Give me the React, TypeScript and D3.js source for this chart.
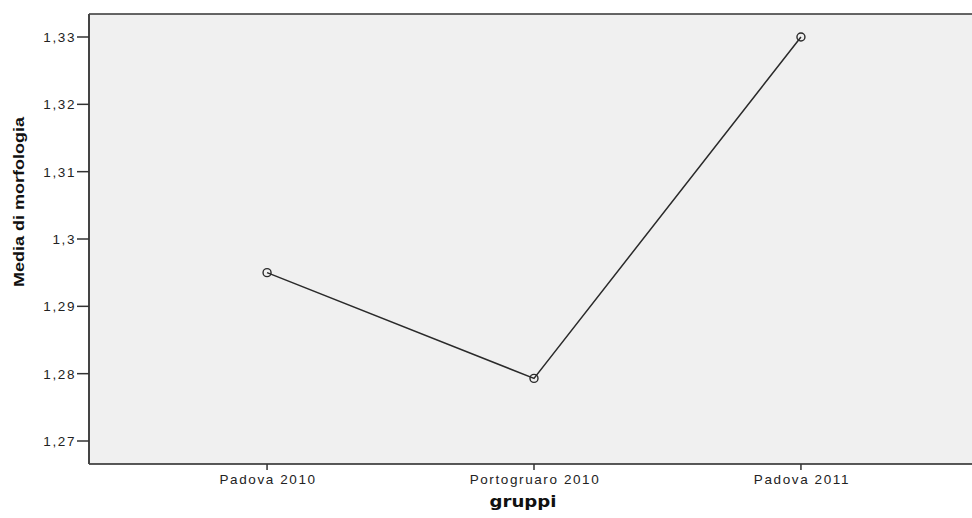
import React from "react";
import * as d3 from "d3";

// Mean morphology score by group
const categories: string[] = ["Padova 2010", "Portogruaro 2010", "Padova 2011"];
const means: number[] = [1.295, 1.2793, 1.33];
const yTickValues: number[] = [1.27, 1.28, 1.29, 1.3, 1.31, 1.32, 1.33];
const yTickLabels: string[] = ["1,27", "1,28", "1,29", "1,3", "1,31", "1,32", "1,33"];

const W = 972;
const H = 518;
const frame = { left: 89, right: 979, top: 14, bottom: 464 };

export default function App() {
  const x = d3
    .scalePoint<string>()
    .domain(categories)
    .range([frame.left, frame.right])
    .padding(0.667);
  const y = d3.scaleLinear().domain([1.27, 1.33]).range([441, 37]);

  const pts = categories.map((c, i) => ({ c, v: means[i] }));
  const line = d3
    .line<{ c: string; v: number }>()
    .x((d) => x(d.c) as number)
    .y((d) => y(d.v));

  const tickFont = "Liberation Sans, Arial, sans-serif";

  return (
    <svg
      width={W}
      height={H}
      style={{ position: "absolute", left: 0, top: 0, background: "#fff" }}
    >
      {/* plot background */}
      <rect
        x={frame.left}
        y={frame.top}
        width={W - frame.left}
        height={frame.bottom - frame.top}
        fill="#f0f0f0"
      />
      {/* frame lines */}
      <line x1={frame.left} x2={W} y1={frame.top} y2={frame.top} stroke="#333" strokeWidth={1.5} />
      <line x1={frame.left} x2={W} y1={frame.bottom} y2={frame.bottom} stroke="#222" strokeWidth={1.5} />
      <line x1={frame.left} x2={frame.left} y1={frame.top} y2={frame.bottom} stroke="#444" strokeWidth={2} />

      {/* y axis ticks */}
      {yTickValues.map((v, i) => (
        <g key={v}>
          <line x1={77} x2={frame.left} y1={y(v)} y2={y(v)} stroke="#333" strokeWidth={1.5} />
          <text
            x={76}
            y={y(v) + 5}
            textAnchor="end"
            fontFamily={tickFont}
            fontSize={13.5}
            letterSpacing={1.6}
            fill="#222"
          >
            {yTickLabels[i]}
          </text>
        </g>
      ))}

      {/* x axis ticks */}
      {categories.map((c) => (
        <g key={c}>
          <line
            x1={x(c) as number}
            x2={x(c) as number}
            y1={frame.bottom}
            y2={frame.bottom + 6}
            stroke="#333"
            strokeWidth={1.5}
          />
          <text
            x={(x(c) as number) + 1}
            y={484}
            textAnchor="middle"
            fontFamily={tickFont}
            fontSize={13.5}
            letterSpacing={1.6}
            fill="#222"
          >
            {c}
          </text>
        </g>
      ))}

      {/* data line and markers */}
      <path d={line(pts) ?? ""} fill="none" stroke="#2a2a2a" strokeWidth={1.5} />
      {pts.map((d) => (
        <circle
          key={d.c}
          cx={x(d.c) as number}
          cy={y(d.v)}
          r={4}
          fill="none"
          stroke="#2a2a2a"
          strokeWidth={1.4}
        />
      ))}

      {/* axis titles */}
      <text
        x={523}
        y={507}
        textAnchor="middle"
        fontFamily="DejaVu Sans, sans-serif"
        fontWeight="bold"
        fontSize={15}
        textLength={67}
        lengthAdjust="spacingAndGlyphs"
        fill="#111"
      >
        gruppi
      </text>
      <text
        transform={`translate(24, 202) rotate(-90)`}
        textAnchor="middle"
        fontFamily="Liberation Sans Narrow, Arial Narrow, Liberation Sans, sans-serif"
        fontWeight="bold"
        fontSize={15}
        textLength={170}
        lengthAdjust="spacingAndGlyphs"
        fill="#111"
      >
        Media di morfologia
      </text>
    </svg>
  );
}
